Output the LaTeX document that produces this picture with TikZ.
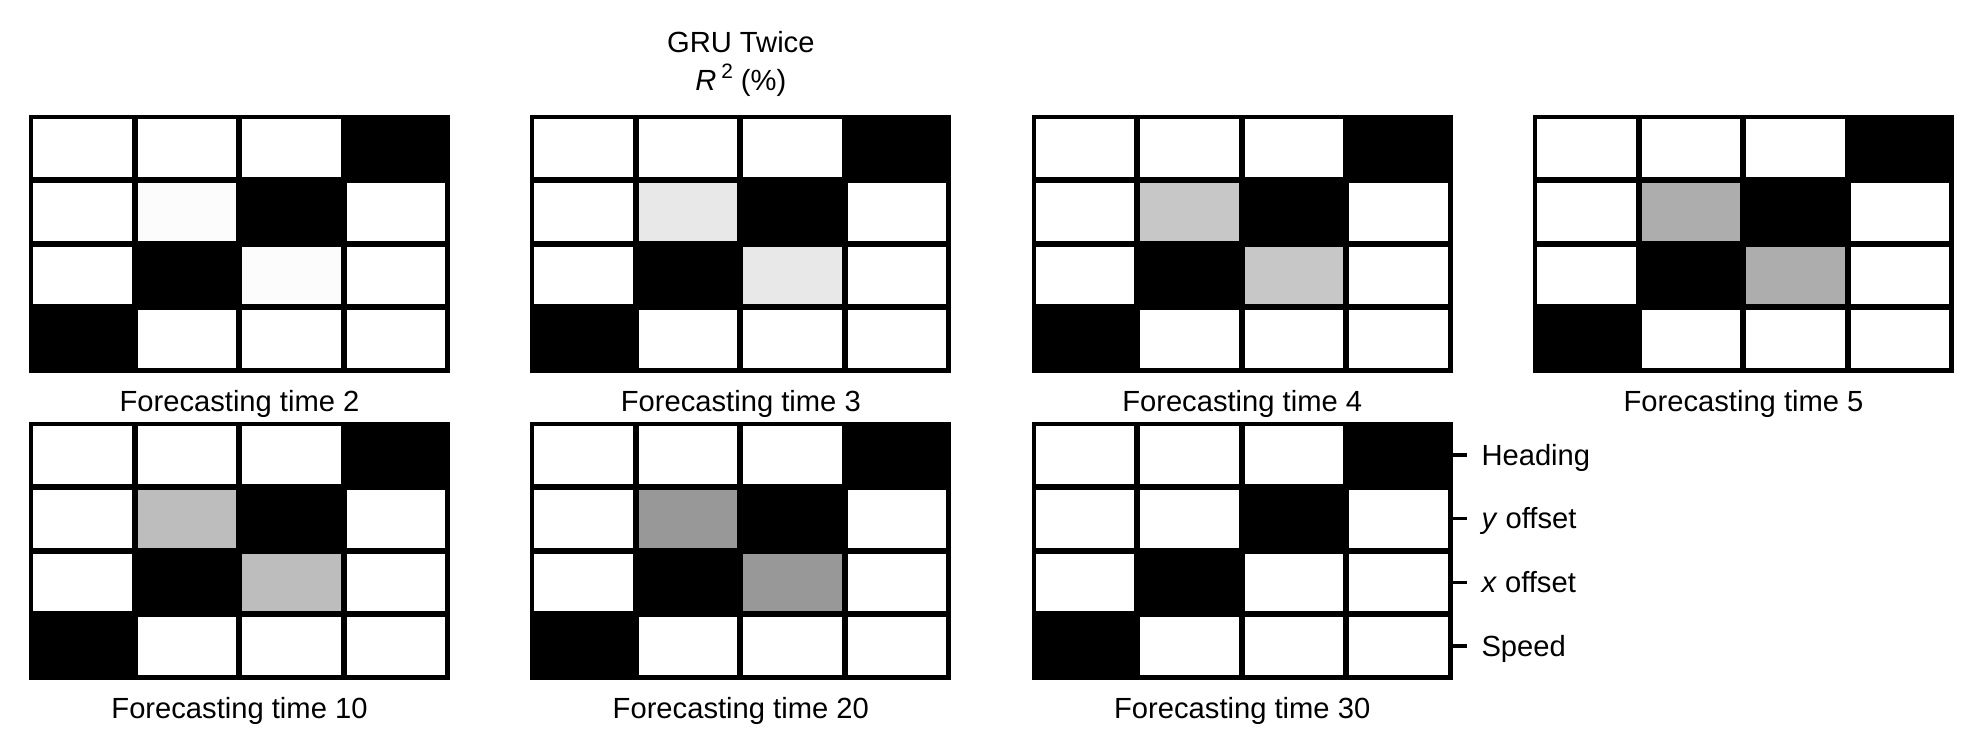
\documentclass[tikz,border=0pt]{standalone}
\usepackage{fontspec}
\setmainfont{Liberation Sans}
\usetikzlibrary{calc}
\definecolor{gA}{HTML}{FCFCFC}
\definecolor{gB}{HTML}{E8E8E8}
\definecolor{gC}{HTML}{C7C7C7}
\definecolor{gD}{HTML}{ADADAD}
\definecolor{gE}{HTML}{BDBDBD}
\definecolor{gF}{HTML}{989898}
\definecolor{gG}{HTML}{FFFFFF}
\tikzset{
  txt/.style={font=\fontsize{7}{8.4}\selectfont, inner sep=0pt, outer sep=0pt},
  panelframe/.style={fill=black},
  tickline/.style={line width=0.8pt, black},
}
\newcommand\heatpanel[5]{%
  \begin{scope}[shift={(#2,#3)}]
    \fill[panelframe] (0,0) rectangle (421,258);
    \foreach \r/\c/\col in {0/0/white,0/1/white,0/2/white,1/0/white,1/1/#4,1/3/white,2/0/white,2/2/#4,2/3/white,3/1/white,3/2/white,3/3/white}{
      \fill[\col] ({4+\c*104.5},{4+\r*63.75}) rectangle ++(98.5,57.75);
    }
    \coordinate (#1) at (210.5,129);
    \coordinate (#1r) at (421,0);
    \node[txt, anchor=base] (#1lab) at (210.5,296) {#5};
  \end{scope}}
\begin{document}
\begin{tikzpicture}[x=0.24pt, y=-0.24pt]
  \useasboundingbox (0,0) rectangle (1982,753);
  \fill[white] (0,0) rectangle (1982,753);
  \heatpanel{p1}{29}{115}{gA}{Forecasting time 2}
  \heatpanel{p2}{530.3}{115}{gB}{Forecasting time 3}
  \heatpanel{p3}{1031.7}{115}{gC}{Forecasting time 4}
  \heatpanel{p4}{1533}{115}{gD}{Forecasting time 5}
  \heatpanel{p5}{29}{422}{gE}{Forecasting time 10}
  \heatpanel{p6}{530.3}{422}{gF}{Forecasting time 20}
  \heatpanel{p7}{1031.7}{422}{gG}{Forecasting time 30}
  % title
  \node[txt, anchor=base] (title1) at (740.8,52) {GRU Twice};
  \node[txt, anchor=base] (title2) at (740.8,90) {\textit{R}\,\raisebox{0.75ex}{\fontsize{5}{6}\selectfont 2} (\%)};
  % ticks and labels on the right of panel 7
  \foreach \yy/\name/\lab in {33/hd/Heading, 96.6/yo/\textit{y} offset, 160.4/xo/\textit{x} offset, 224/sp/Speed}{
    \coordinate (t\name) at ($(p7r)+(0,\yy)$);
    \draw[tickline] (t\name) -- ++(14.6,0) coordinate (e\name);
    \node[txt, anchor=base west] (l\name) at ($(e\name)+(14.2,10)$) {\lab};
  }
\end{tikzpicture}
\end{document}
